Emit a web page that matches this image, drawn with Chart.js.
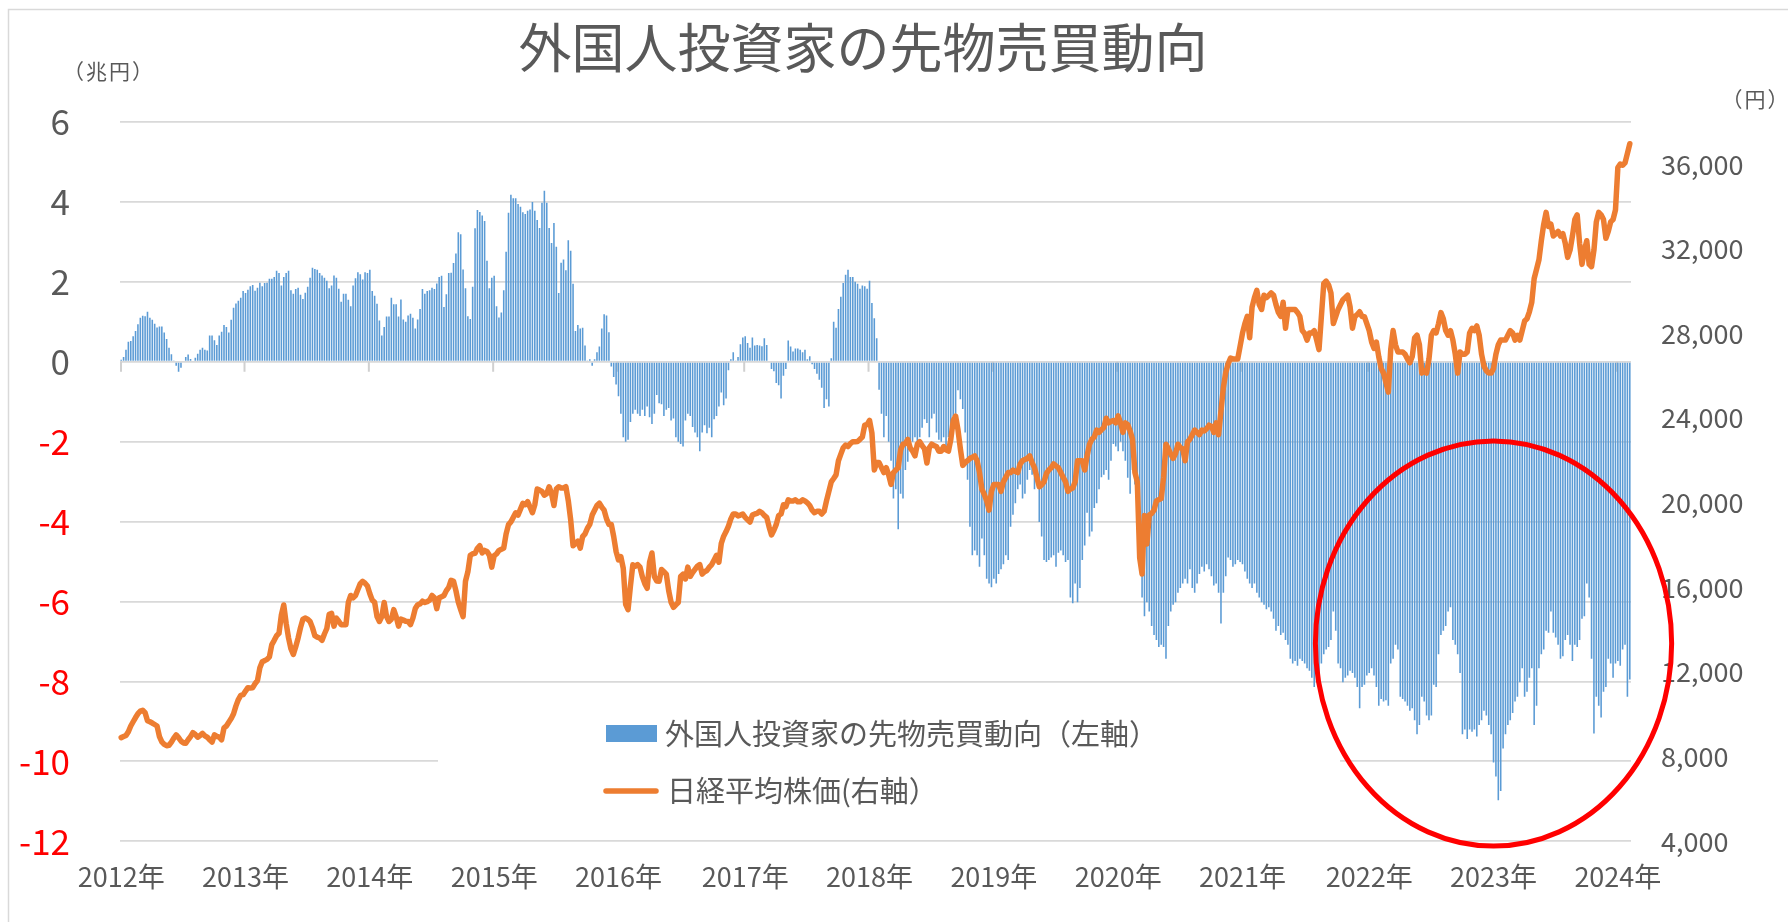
<!DOCTYPE html>
<html><head><meta charset="utf-8">
<script src="https://cdn.jsdelivr.net/npm/chart.js@4.4.1/dist/chart.umd.min.js"></script>
<style>
html,body{margin:0;padding:0;background:#fff;}
canvas{display:block;}
</style></head><body>
<canvas id="c" width="1788" height="922"></canvas>
<script>
const FONT = "'Noto Sans CJK JP','Noto Sans',sans-serif";
const titleText = '外国人投資家の先物売買動向';
const seriesNames = ['外国人投資家の先物売買動向（左軸）', '日経平均株価(右軸）'];
const leftUnit = '（兆円）';
const rightUnit = '（円）';
const firstWeek = '2012-01-06';
const yearSuffix = '年';
const leftTicks = [-12, -10, -8, -6, -4, -2, 0, 2, 4, 6];
const rightTicks = [4000, 8000, 12000, 16000, 20000, 24000, 28000, 32000, 36000];

// 外国人投資家の先物売買動向（兆円, 週次）
const futures = [
0.05,0.12,0.3,0.5,0.52,0.64,0.77,0.94,1.1,1.15,1.14,1.25,1.1,1.05,0.95,0.86,0.88,0.88,0.73,0.57,0.35,0.19,0.02,-0.1,-0.25,-0.15,0,0.12,0.18,0.07,0,0.1,0.2,0.3,0.35,0.3,0.28,0.66,0.66,0.54,0.42,0.66,0.75,0.92,0.87,0.73,1.05,1.35,1.46,1.53,1.6,1.77,
1.72,1.8,1.89,1.92,1.78,1.85,1.98,1.89,1.97,1.98,2.08,2.08,2.12,2.28,2.22,1.91,2.12,2.22,2.28,1.79,1.7,1.82,1.85,1.68,1.57,1.73,1.88,2.1,2.35,2.32,2.3,2.22,2.16,2.1,2.03,1.84,1.91,2.16,2.1,1.83,1.5,1.7,1.7,1.55,1.39,1.91,2.09,2.24,2.19,2.06,2.24,2.22,
2.3,1.77,1.65,1.45,1.03,0.66,0.87,1.13,1.13,1.6,1.44,1.44,1.13,1.56,1.06,1.0,1.16,1.2,1.1,0.83,1.06,1.32,1.82,1.7,1.77,1.79,1.85,1.82,1.96,2.12,2.15,1.37,1.69,2.22,2.23,2.47,2.71,3.24,3.19,2.31,1.84,1.14,1.07,1.88,3.34,3.8,3.75,3.66,3.52,2.53,1.84,2.1,
2.15,1.39,1.11,1.23,1.79,2.75,3.73,4.18,4.09,4.09,3.95,3.88,3.74,3.7,3.78,3.81,4.0,3.78,3.55,3.35,3.98,4.28,3.98,3.35,2.97,3.47,2.88,1.72,2.48,2.56,2.29,3.04,2.78,1.95,0.77,0.92,0.83,0.85,0.41,0.02,0.06,-0.1,0.06,0.24,0.38,0.83,1.19,1.16,0.74,-0.12,-0.38,-0.57,
-0.86,-1.3,-1.89,-2.0,-1.95,-1.51,-1.3,-1.2,-1.3,-1.36,-1.2,-1.36,-1.12,-1.39,-1.56,-1.3,-0.83,-1.04,-1.06,-1.36,-1.2,-1.16,-1.47,-1.42,-1.89,-2.0,-2.06,-2.12,-1.47,-1.3,-1.36,-1.63,-1.77,-1.89,-2.24,-1.77,-1.59,-1.79,-1.65,-1.89,-1.44,-1.36,-1.12,-0.77,-1.09,-0.92,-0.21,0.06,0.24,0.02,0.12,0.44,
0.61,0.64,0.47,0.35,0.61,0.41,0.42,0.41,0.39,0.59,0.42,0,-0.18,-0.24,-0.53,-0.59,-0.92,-0.35,-0.18,0.53,0.38,0.26,0.33,0.33,0.3,0.24,0.3,0.06,0.14,-0.06,-0.18,-0.3,-0.45,-0.65,-1.16,-0.94,-1.12,0.09,1.0,0.85,1.32,1.63,1.97,2.18,2.3,2.12,2.12,2.0,1.95,1.83,1.91,1.89,
1.83,2.03,1.47,1.09,0.59,-0.7,-1.3,-1.89,-1.36,-2.0,-2.48,-3.42,-3.19,-4.19,-3.3,-3.42,-2.71,-2.5,-2.24,-2.0,-1.89,-2.12,-1.89,-1.65,-1.44,-1.53,-1.89,-1.42,-1.3,-1.77,-1.95,-2.0,-1.89,-2.12,-1.89,-1.65,-1.36,-1.3,-0.71,-0.94,-1.18,-1.77,-2.95,-4.13,-4.84,-4.72,-4.84,-5.13,-4.42,-4.84,-5.43,-5.55,-5.64,
-5.43,-5.55,-5.31,-5.19,-5.07,-4.84,-4.96,-4.13,-3.83,-3.54,-3.19,-3.07,-3.42,-3.3,-2.95,-2.71,-2.83,-3.19,-3.07,-4.01,-4.37,-4.96,-5.01,-4.96,-4.9,-4.84,-5.13,-4.78,-4.72,-4.84,-5.01,-4.96,-5.9,-6.04,-5.55,-6.02,-5.66,-4.96,-4.6,-3.78,-4.37,-4.25,-3.66,-3.54,-3.19,-2.89,-2.83,-2.71,-2.95,-2.48,-2.06,-2.12,
-2.24,-2.0,-2.24,-2.48,-2.9,-3.3,-2.71,-3.07,-3.78,-5.07,-5.9,-6.37,-6.02,-6.25,-6.61,-6.84,-6.96,-7.14,-7.08,-7.14,-7.43,-6.61,-6.25,-6.08,-6.02,-5.78,-5.66,-5.55,-5.43,-5.55,-5.19,-5.66,-5.78,-5.55,-5.31,-5.13,-5.25,-5.07,-5.19,-5.37,-5.6,-5.55,-5.78,-6.55,-5.78,-5.37,-4.9,-4.96,-5.13,-5.07,-4.96,-5.01,
-5.07,-5.25,-5.43,-5.55,-5.66,-5.55,-5.78,-5.9,-6.02,-6.08,-6.19,-6.14,-6.25,-6.43,-6.73,-6.61,-6.84,-6.78,-6.96,-7.08,-7.43,-7.55,-7.49,-7.61,-7.43,-7.49,-7.55,-7.67,-7.73,-7.91,-8.14,-8.02,-7.91,-7.55,-7.32,-7.2,-7.14,-6.96,-6.25,-6.73,-7.55,-7.67,-8.02,-7.91,-7.85,-7.73,-7.79,-7.91,-8.14,-8.67,-8.14,-8.08,
-7.85,-7.79,-7.67,-7.85,-8.14,-8.61,-8.44,-8.5,-8.47,-8.61,-7.55,-7.43,-7.08,-7.2,-8.38,-8.44,-8.5,-8.61,-8.73,-8.67,-8.97,-9.32,-9.09,-8.38,-8.5,-8.85,-8.97,-8.85,-8.08,-8.14,-7.32,-6.84,-6.73,-6.61,-6.25,-6.14,-6.96,-7.08,-7.32,-7.79,-9.32,-9.2,-9.44,-9.2,-9.26,-9.2,-9.38,-9.09,-8.97,-8.73,-8.85,-9.09,
-9.32,-10.03,-10.38,-10.97,-10.74,-9.68,-9.32,-9.09,-8.97,-8.79,-8.5,-8.38,-8.02,-7.67,-8.38,-8.26,-7.91,-7.67,-9.09,-8.61,-7.67,-7.32,-7.2,-6.73,-6.78,-6.25,-6.78,-6.9,-7.08,-7.43,-7.37,-6.96,-6.84,-7.08,-7.49,-7.08,-7.14,-6.96,-6.43,-6.37,-5.55,-5.9,-7.43,-9.3,-8.38,-8.61,-8.9,-8.26,-8.14,-7.43,-7.55,-7.91,
-7.55,-7.49,-7.61,-7.2,-7.08,-8.38,-7.95
];

// 日経平均株価（円, 週次）
const nikkei = [
8900,8950,9000,9180,9450,9650,9850,10030,10150,10190,10080,9700,9650,9590,9520,9450,8950,8700,8580,8520,8540,8690,8880,9030,8900,8740,8650,8630,8800,8950,9140,9050,8920,9000,9100,8980,8920,8800,8690,9030,8960,8920,8800,9360,9450,9630,9800,10030,10400,10700,10900,10930,
11100,11260,11250,11260,11450,11600,12200,12490,12540,12600,12720,13300,13500,13720,13830,14700,15170,14300,13610,13100,12830,13200,13610,14100,14500,14550,14500,14390,14100,13720,13650,13610,13500,13800,14060,14730,14770,14170,14550,14400,14240,14240,14240,15290,15620,15510,15620,15900,16180,16290,16200,16070,
15700,15400,15300,14620,14390,14620,15290,14620,14390,14500,14950,14620,14170,14500,14460,14400,14390,14240,14550,15000,15180,15220,15350,15290,15330,15400,15620,15510,15000,15510,15560,15620,15850,16000,16340,16290,15850,15300,14950,14620,16290,16740,17520,17590,17610,17850,17970,17630,17750,17700,17520,16960,
17500,17590,17750,17800,17860,18530,18970,19100,19310,19530,19420,19700,19980,19910,20050,19800,19530,19910,20650,20600,20540,20360,20430,20760,20430,19870,20650,20760,20700,20700,20760,20100,19200,17970,18080,18190,17860,18400,18530,18800,18980,19420,19650,19870,19980,19800,19650,19240,18980,18975,18400,17700,
17300,17450,16900,15200,14950,16070,17070,17000,17080,16960,16500,16180,15960,17190,17630,16520,16300,16290,16850,16740,16630,15850,15300,15060,15180,15290,16520,16630,16400,16960,16520,16700,16850,17000,17080,16630,16740,16800,16960,17080,17300,17520,17190,18080,18420,18640,18900,19240,19470,19470,19380,19420,
19470,19310,19200,19090,19420,19470,19500,19600,19530,19400,19310,18860,18480,18700,18980,19400,19470,19910,19820,20140,20090,20090,20140,20050,20050,20140,20090,20000,19870,19650,19530,19600,19600,19470,19600,20090,20540,20990,21150,21320,21990,22300,22600,22730,22660,22800,22890,22890,22900,23000,23110,23670,
23700,23900,23300,21550,21900,21900,21660,21430,21660,21320,20870,21430,21550,21660,22500,22770,22800,23000,22600,22450,22220,22770,22890,22700,22550,21880,22600,22770,22700,22660,22440,22440,22660,22500,22440,23000,23890,24100,23450,22550,21770,21900,21990,22100,22150,22220,21990,21430,20650,20400,20090,19650,20540,
20870,20870,20870,20540,20990,21200,21430,21430,21550,21480,21430,21830,21990,22050,22100,22220,21900,21660,21210,20760,20850,20990,21390,21550,21660,21840,21740,21660,21430,21200,20990,20540,20650,20700,20990,21990,21990,21990,21550,22220,22770,23000,23110,23440,23330,23450,23560,24000,23780,23850,23890,23780,
24110,23780,23330,23780,23690,23400,23000,21430,20990,17400,16630,19400,18050,19420,19500,19650,20090,20150,20200,21210,22770,22550,22300,22100,22330,22770,22600,22550,21990,22880,23000,23220,23440,23330,23220,23440,23400,23500,23670,23620,23330,23780,23220,24340,25450,26160,26570,26840,26800,26800,26800,27400,
28020,28470,28810,27800,29250,29700,30040,29370,29140,29810,29700,29800,29920,29810,29370,29000,28810,29480,28250,29140,29140,29140,29140,29000,28810,28140,28000,27690,28030,28030,28140,27700,27240,28810,30370,30480,30300,29920,28470,28800,29140,29370,29600,29700,29810,29260,28250,28800,28900,29030,28810,28800,
28470,28140,27600,27300,27600,26900,26350,26130,25680,25230,27240,28140,27470,27130,27130,27130,27020,26800,26620,26910,27800,27920,27470,26130,26240,26130,26800,27920,28140,28030,28470,28990,28700,28140,27920,28140,27690,27020,26130,27130,27020,27020,27130,28030,28250,28140,28360,27920,27020,26460,26240,26130,
26130,26350,27020,27470,27690,27690,27690,27920,28140,28030,27690,27920,27690,28140,28590,28700,29030,29480,30600,31040,31490,32390,33170,33730,33060,33170,32610,32720,32830,32610,32720,32270,31600,31940,32610,33390,33610,32270,31270,31940,32390,31270,31160,31940,33280,33730,33610,33390,32500,32830,33280,33390,
33840,35850,36010,35960,36070,36520,36970
];

// weekly categories (regular calendar, one per data point)
const nWeeks = Math.max(futures.length, nikkei.length);
const weeks = [];
{
  const d0 = new Date(firstWeek + 'T00:00:00Z');
  for (let i = 0; i < nWeeks; i++) {
    weeks.push(new Date(d0.getTime() + i * 7 * 86400000).toISOString().slice(0, 10));
  }
}
const yearStartIdx = weeks.map((w, i) => (i === 0 || w.slice(0, 4) !== weeks[i - 1].slice(0, 4)) ? i : -1).filter(i => i >= 0);

const decor = {
  id: 'decor',
  beforeDraw(chart) {
    const c = chart.ctx;
    c.save();
    c.fillStyle = '#ffffff';
    c.fillRect(0, 0, chart.width, chart.height);
    c.strokeStyle = '#D9D9D9';
    c.lineWidth = 1.5;
    c.beginPath();
    c.moveTo(8.5, chart.height + 2);
    c.lineTo(8.5, 9.5);
    c.lineTo(chart.width + 2, 9.5);
    c.stroke();
    c.restore();
  },
  beforeDatasetsDraw(chart) {
    const xs = chart.scales.x, ys = chart.scales.y, c = chart.ctx;
    const y0 = ys.getPixelForValue(0);
    c.save();
    c.strokeStyle = '#D0D0D0';
    c.lineWidth = 2;
    c.beginPath();
    yearStartIdx.forEach(i => {
      const px = Math.max(xs.left + 1, xs.getPixelForValue(i) - 1);
      c.moveTo(px, y0);
      c.lineTo(px, y0 + 10);
    });
    c.stroke();
    c.restore();
  },
  afterDraw(chart) {
    const c = chart.ctx;
    const xs = chart.scales.x, ys = chart.scales.y;
    c.save();
    // title
    c.fillStyle = '#595959';
    c.textAlign = 'center';
    c.textBaseline = 'middle';
    c.font = '53px ' + FONT;
    c.fillText(titleText, 863, 48);
    // axis units
    c.font = '21px ' + FONT;
    if ('letterSpacing' in c) c.letterSpacing = '2px';
    c.fillText(leftUnit, 109, 71);
    c.fillText(rightUnit, 1756, 99);
    if ('letterSpacing' in c) c.letterSpacing = '0px';
    // legend box (white, covers gridline)
    c.fillStyle = '#ffffff';
    c.fillRect(438, 702, 902, 118);
    // legend entries
    c.fillStyle = '#5B9BD5';
    c.fillRect(606, 725, 51, 17);
    c.strokeStyle = '#ED7D31';
    c.lineWidth = 5.5;
    c.lineCap = 'round';
    c.beginPath();
    c.moveTo(606, 791);
    c.lineTo(656, 791);
    c.stroke();
    c.fillStyle = '#595959';
    c.textAlign = 'left';
    c.font = '29px ' + FONT;
    c.fillText(seriesNames[0], 665, 734);
    c.fillText(seriesNames[1], 667, 791);
    // red ellipse annotation around 2022-2024
    const slot = (xs.right - xs.left) / weeks.length;
    const cx = xs.getPixelForValue(574);
    const rx = 74.5 * slot;
    const cy = ys.getPixelForValue(-7.05);
    const ry = Math.abs(ys.getPixelForValue(0) - ys.getPixelForValue(5.07));
    c.strokeStyle = '#FF0000';
    c.lineWidth = 5;
    c.beginPath();
    c.ellipse(cx, cy, rx, ry, 0, 0, Math.PI * 2);
    c.stroke();
    c.restore();
  }
};

new Chart(document.getElementById('c').getContext('2d'), {
  data: {
    labels: weeks,
    datasets: [
      { type: 'line', label: seriesNames[1], data: nikkei, yAxisID: 'y1', borderColor: '#ED7D31', backgroundColor: '#ED7D31',
        borderWidth: 5.5, pointRadius: 0, tension: 0, borderJoinStyle: 'round', borderCapStyle: 'round', order: 0 },
      { type: 'bar', label: seriesNames[0], data: futures, yAxisID: 'y', backgroundColor: '#5B9BD5',
        barPercentage: 0.66, categoryPercentage: 1, order: 1 }
    ]
  },
  options: {
    responsive: false, animation: false, devicePixelRatio: 1,
    layout: { padding: { top: 122, left: 0, right: 0, bottom: 0 } },
    plugins: { legend: { display: false }, title: { display: false }, tooltip: { enabled: false } },
    scales: {
      x: {
        type: 'category', offset: true,
        grid: { display: false, drawTicks: false }, border: { display: false },
        afterBuildTicks(s) { s.ticks = s.ticks.filter(t => yearStartIdx.includes(t.value)); },
        afterFit(s) { s.height = 80.7; },
        ticks: { autoSkip: false, maxRotation: 0, minRotation: 0, padding: 19, color: '#595959',
          font: { family: FONT, size: 27 },
          callback(v) { return weeks[v].slice(0, 4) + yearSuffix; } }
      },
      y: {
        position: 'left', min: leftTicks[0], max: leftTicks[leftTicks.length - 1],
        afterBuildTicks(s) { s.ticks = leftTicks.map(v => ({ value: v })); },
        afterFit(s) { s.width = 120; },
        grid: { color: '#D9D9D9', lineWidth: 1.8, drawTicks: false }, border: { display: false },
        ticks: { padding: 50, font: { family: FONT, size: 35 },
          color: ctx => (ctx.tick && ctx.tick.value < 0) ? '#FF0000' : '#595959' }
      },
      y1: {
        position: 'right', min: 4000, max: 38000,
        afterBuildTicks(s) { s.ticks = rightTicks.map(v => ({ value: v })); },
        afterFit(s) { s.width = 157; },
        grid: { display: false, drawTicks: false }, border: { display: false },
        ticks: { padding: 30, color: '#595959', font: { family: FONT, size: 27 },
          callback: v => Number(v).toLocaleString('en-US') }
      }
    }
  },
  plugins: [decor]
});
</script>
</body></html>
